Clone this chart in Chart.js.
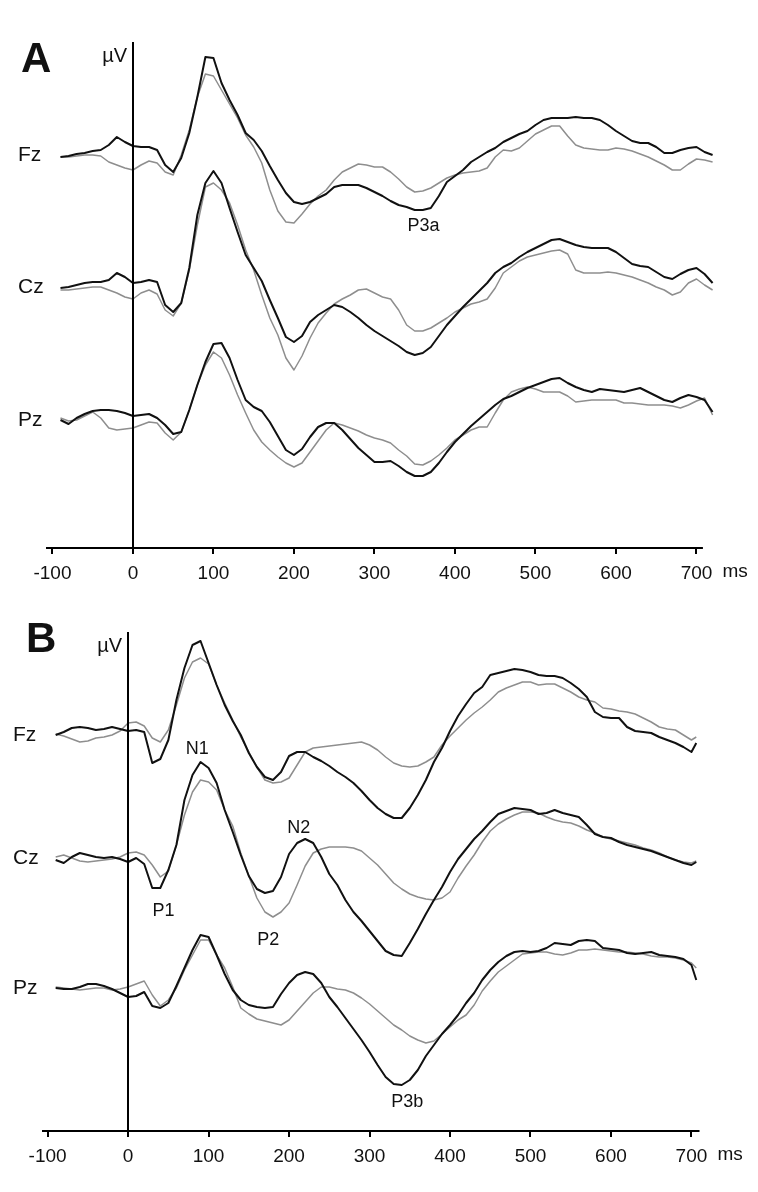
<!DOCTYPE html>
<html>
<head>
<meta charset="utf-8">
<script src="https://cdn.jsdelivr.net/npm/chart.js@4.4.1/dist/chart.umd.min.js"></script>
<style>
  html, body { margin: 0; padding: 0; background: #fff; }
  #wrap { position: relative; width: 758px; height: 1192px; }
  canvas { position: absolute; left: 0; }
</style>
</head>
<body>
<div id="wrap">
  <canvas id="panelA" width="758" height="596" style="top:0"></canvas>
  <canvas id="panelB" width="758" height="596" style="top:596px"></canvas>
</div>
<script>
// ---------- DATA ----------
const channels = ['Fz', 'Cz', 'Pz'];
const tickValues = [-100, 0, 100, 200, 300, 400, 500, 600, 700];

// sample times (ms)
const timesA = [-90,-80,-70,-60,-50,-40,-30,-20,-10,0,
  10,20,30,40,50,60,70,80,90,100,110,120,130,140,150,160,170,180,190,200,
  210,220,230,240,250,260,270,280,290,300,310,320,330,340,350,360,370,380,390,400,
  410,420,430,440,450,460,470,480,490,500,510,520,530,540,550,560,570,580,590,600,
  610,620,630,640,650,660,670,680,690,700,710,720];
const timesB = [-90,-80,-70,-60,-50,-40,-30,-20,-10,0,
  10,20,30,40,50,60,70,80,90,100,110,120,130,140,150,160,170,180,190,200,
  210,220,230,240,250,260,270,280,290,300,310,320,330,340,350,360,370,380,390,400,
  410,420,430,440,450,460,470,480,490,500,510,520,530,540,550,560,570,580,590,600,
  610,620,630,640,650,660,670,680,690,700,706];

// panel A (µV, negative up)
const A_Fz_black = [0.2,0.1,-0.1,-0.2,-0.4,-0.5,-1.0,-1.8,-1.3,-0.9,
  -0.8,-0.8,-0.5,1.0,1.7,0.3,-2.2,-5.8,-9.8,-9.7,
  -7.2,-5.5,-4.0,-2.2,-1.5,-0.4,1.1,2.5,3.8,4.7,
  4.9,4.7,4.3,3.9,3.2,3.0,3.0,3.0,3.3,3.7,
  4.1,4.6,5.0,5.2,5.5,5.5,5.3,4.1,2.7,2.1,
  1.5,0.7,0.2,-0.3,-0.7,-1.3,-1.7,-2.1,-2.4,-3.0,
  -3.5,-3.7,-3.7,-3.7,-3.8,-3.7,-3.7,-3.5,-3.0,-2.4,
  -1.9,-1.4,-1.2,-1.2,-0.8,-0.2,-0.2,-0.5,-0.7,-0.8,
  -0.3,0.0];
const A_Fz_gray = [0.2,0.2,0.1,0.0,0.0,0.1,0.7,1.0,1.3,1.5,
  1.0,0.6,0.8,1.7,2.0,0.0,-2.5,-5.8,-8.1,-7.9,
  -6.5,-5.1,-3.7,-2.0,-0.8,0.8,3.5,5.6,6.7,6.8,
  5.9,4.9,4.1,3.5,2.5,1.7,1.3,0.9,1.0,1.2,
  1.2,1.7,2.4,3.2,3.7,3.6,3.3,2.8,2.3,2.0,
  1.8,1.7,1.6,1.3,0.2,-0.5,-0.4,-0.7,-1.4,-2.1,
  -2.5,-2.9,-2.9,-1.9,-1.0,-0.7,-0.6,-0.5,-0.5,-0.7,
  -0.6,-0.4,-0.1,0.2,0.6,1.0,1.5,1.5,0.9,0.4,
  0.5,0.7];
const A_Cz_black = [0.1,0.0,-0.2,-0.4,-0.5,-0.5,-0.7,-1.4,-1.0,-0.4,
  -0.5,-0.7,-0.5,1.8,2.5,1.6,-1.9,-7.2,-10.4,-11.6,
  -10.4,-7.9,-5.5,-3.2,-1.9,-0.6,1.3,3.1,5.0,5.5,
  4.9,3.5,2.8,2.3,1.8,2.0,2.5,3.1,3.8,4.4,
  4.9,5.4,5.9,6.5,6.8,6.6,6.0,4.9,3.8,2.9,
  2.0,1.2,0.4,-0.4,-1.4,-2.0,-2.4,-3.0,-3.5,-3.9,
  -4.3,-4.7,-4.8,-4.5,-4.2,-4.0,-3.9,-3.9,-3.9,-3.5,
  -2.9,-2.3,-2.1,-2.0,-1.5,-1.0,-0.8,-1.3,-1.7,-1.9,
  -1.3,-0.4];
const A_Cz_gray = [0.3,0.3,0.2,0.1,0.0,0.0,0.3,0.6,1.0,1.2,
  0.6,0.3,0.7,2.3,2.9,1.6,-1.7,-6.2,-10.0,-10.4,
  -9.7,-8.4,-6.2,-3.7,-1.7,0.8,3.1,4.8,7.1,8.3,
  6.9,5.1,3.6,2.6,1.7,1.2,0.8,0.3,0.2,0.6,
  1.0,1.2,2.3,3.8,4.4,4.4,4.1,3.6,3.1,2.5,
  2.1,1.7,1.5,1.2,0.1,-1.4,-2.0,-2.6,-3.0,-3.2,
  -3.4,-3.6,-3.7,-3.3,-1.7,-1.4,-1.4,-1.4,-1.5,-1.4,
  -1.2,-1.0,-0.7,-0.4,0.0,0.3,0.8,0.5,-0.4,-0.8,
  -0.2,0.3];
const A_Pz_black = [0.0,0.4,-0.2,-0.6,-0.9,-1.0,-1.0,-0.9,-0.7,-0.4,
  -0.5,-0.6,-0.2,0.5,1.4,1.2,-1.0,-3.5,-5.8,-7.6,
  -7.7,-6.2,-4.0,-2.0,-1.3,-0.9,0.2,1.6,3.0,3.5,
  2.9,1.7,0.7,0.3,0.3,1.0,1.9,2.8,3.5,4.2,
  4.2,4.1,4.6,5.2,5.6,5.6,5.2,4.3,3.2,2.2,
  1.4,0.6,-0.1,-0.8,-1.5,-2.1,-2.4,-2.8,-3.2,-3.5,
  -3.8,-4.1,-4.2,-3.7,-3.3,-3.0,-2.8,-3.1,-3.0,-2.9,
  -2.8,-3.0,-3.2,-2.8,-2.4,-2.0,-1.8,-2.2,-2.5,-2.3,
  -2.0,-0.8];
const A_Pz_gray = [-0.2,0.1,0.0,-0.4,-0.8,-0.2,0.8,1.0,0.9,0.8,
  0.5,0.2,0.3,1.3,2.0,1.2,-1.0,-3.5,-5.5,-6.8,
  -6.2,-4.5,-2.5,-0.7,1.0,2.2,3.0,3.7,4.3,4.7,
  4.3,3.2,2.1,1.0,0.3,0.5,0.8,1.1,1.5,1.8,
  2.0,2.3,3.0,3.6,4.4,4.5,4.1,3.5,2.8,2.0,
  1.5,1.0,0.7,0.7,-0.7,-2.0,-2.8,-3.1,-3.3,-3.1,
  -2.8,-2.8,-2.8,-2.4,-1.8,-1.9,-2.0,-2.0,-2.0,-2.0,
  -1.7,-1.7,-1.6,-1.5,-1.5,-1.5,-1.4,-1.2,-1.5,-1.9,
  -2.2,-0.5];

// panel B
const B_Fz_black = [0.0,-0.3,-0.7,-0.8,-0.7,-0.5,-0.6,-0.8,-0.6,-0.4,
  -0.5,-0.3,2.8,2.4,0.5,-3.5,-6.7,-9.0,-9.4,-7.2,
  -5.0,-3.0,-1.4,0.0,1.8,3.2,4.2,4.5,3.7,2.1,
  1.7,1.7,2.2,2.6,3.1,3.7,4.2,4.8,5.6,6.5,
  7.3,7.9,8.3,8.3,7.3,6.0,4.5,2.7,1.3,-0.4,
  -1.9,-3.1,-4.2,-4.8,-6.0,-6.2,-6.4,-6.6,-6.5,-6.3,
  -6.0,-5.9,-5.9,-5.7,-5.2,-4.6,-3.8,-2.3,-1.8,-1.7,
  -1.7,-0.8,-0.4,-0.3,-0.2,0.2,0.5,0.8,1.2,1.7,
  0.8];
const B_Fz_gray = [-0.1,0.1,0.4,0.7,0.6,0.3,0.2,0.0,-0.4,-1.2,
  -1.3,-0.9,0.3,0.7,-0.5,-3.0,-5.7,-7.3,-7.7,-7.1,
  -5.0,-3.2,-1.5,0.2,1.7,3.2,4.5,4.8,4.7,4.3,
  3.0,1.7,1.3,1.2,1.1,1.0,0.9,0.8,0.7,1.0,
  1.5,2.2,2.8,3.1,3.2,3.1,2.7,2.2,1.0,0.1,
  -0.7,-1.5,-2.2,-2.8,-3.5,-4.3,-4.7,-5.0,-5.3,-5.3,
  -5.0,-5.1,-5.1,-4.7,-4.3,-3.8,-3.5,-3.3,-2.7,-2.6,
  -2.4,-2.3,-2.1,-1.7,-1.3,-0.8,-0.6,-0.5,0.0,0.5,
  0.2];
const B_Cz_black = [0.2,0.5,-0.1,-0.5,-0.3,-0.1,0.0,-0.1,0.1,0.4,
  0.0,0.6,3.0,3.0,1.2,-1.3,-5.8,-8.3,-9.6,-9.0,
  -7.5,-4.8,-2.6,-0.3,1.8,3.1,3.5,3.3,1.9,-0.4,
  -1.5,-1.9,-1.5,-0.1,1.6,2.7,4.2,5.4,6.3,7.3,
  8.3,9.3,9.7,9.8,8.5,7.1,5.6,4.2,2.9,1.4,
  0.1,-0.9,-1.9,-2.7,-3.6,-4.4,-4.7,-5.0,-4.9,-4.8,
  -4.4,-4.5,-4.8,-4.5,-4.3,-4.1,-3.3,-2.4,-2.1,-2.0,
  -1.6,-1.3,-1.1,-0.9,-0.7,-0.4,-0.1,0.2,0.5,0.7,
  0.4];
const B_Cz_gray = [-0.1,-0.3,0.0,0.3,0.4,0.3,0.2,0.1,-0.1,-0.5,
  -0.6,-0.3,0.7,1.9,1.3,-1.3,-4.3,-6.6,-7.8,-7.6,
  -6.8,-4.8,-3.2,-0.5,1.8,4.0,5.4,5.9,5.4,4.5,
  2.7,0.8,-0.5,-0.9,-1.1,-1.1,-1.1,-1.0,-0.7,0.0,
  0.7,1.6,2.5,3.1,3.6,3.9,4.1,4.2,4.0,3.4,
  2.0,0.8,-0.3,-1.6,-2.7,-3.4,-3.9,-4.3,-4.6,-4.6,
  -4.5,-4.1,-3.8,-3.6,-3.5,-3.2,-2.8,-2.5,-2.1,-1.9,
  -1.7,-1.5,-1.3,-1.0,-0.8,-0.5,-0.1,0.2,0.4,0.5,
  0.3];
const B_Pz_black = [0.0,0.1,0.1,-0.1,-0.4,-0.4,-0.2,0.1,0.5,0.9,
  0.8,0.4,1.8,2.0,1.5,-0.2,-2.0,-3.8,-5.3,-5.1,
  -3.3,-1.4,0.2,1.2,1.7,1.9,2.0,1.9,0.6,-0.5,
  -1.3,-1.6,-1.4,-0.5,0.9,1.9,3.0,4.1,5.2,6.4,
  7.7,8.9,9.6,9.7,9.2,8.2,6.8,5.7,4.6,3.7,
  2.7,1.5,0.5,-0.8,-1.8,-2.6,-3.2,-3.6,-3.7,-3.6,
  -3.7,-4.0,-4.5,-4.4,-4.3,-4.7,-4.8,-4.7,-4.0,-3.9,
  -3.8,-3.5,-3.4,-3.5,-3.6,-3.3,-3.2,-3.1,-2.9,-2.3,
  -0.8];
const B_Pz_gray = [-0.1,0.0,0.1,0.2,0.1,0.0,0.0,0.2,0.1,-0.1,
  -0.4,-0.7,0.7,1.8,1.2,0.0,-1.8,-3.3,-4.8,-4.8,
  -3.3,-2.0,-0.1,2.0,2.6,3.1,3.3,3.5,3.7,3.2,
  2.3,1.4,0.5,-0.1,-0.1,0.1,0.2,0.5,1.0,1.6,
  2.3,3.0,3.7,4.2,4.8,5.2,5.5,5.3,4.6,3.9,
  3.2,2.7,1.7,0.3,-0.7,-1.6,-2.2,-2.8,-3.4,-3.5,
  -3.6,-3.6,-3.4,-3.3,-3.5,-3.8,-3.8,-3.9,-3.8,-3.7,
  -3.6,-3.6,-3.5,-3.4,-3.2,-3.1,-3.1,-3.0,-2.8,-2.5,
  -2.0];

// component labels: text, time (ms), channel index, µV
const peakTextA = ['P3a'];
const peakTimeA = [361];
const peakChanA = [0];
const peakValA  = [7.1];
const peakTextB = ['N1', 'N2', 'P1', 'P2', 'P3b'];
const peakTimeB = [86, 212, 44, 174, 347];
const peakChanB = [0, 1, 1, 1, 2];
const peakValB  = [1.4, -3.0, 5.3, 8.2, 11.4];

// ---------- DRAWING ----------
const FONT = 'Arial, "Liberation Sans", sans-serif';
const BLACK = '#111111';
const GRAY = '#8e8e8e';

const decor = {
  id: 'decor',
  afterDraw(chart, args, o) {
    const { ctx, chartArea, scales: { x, y } } = chart;
    ctx.save();
    ctx.strokeStyle = '#000';
    ctx.lineWidth = 2;
    // µV axis at t = 0
    const x0 = Math.round(x.getPixelForValue(0));
    ctx.beginPath();
    ctx.moveTo(x0, chartArea.top);
    ctx.lineTo(x0, chartArea.bottom);
    ctx.stroke();
    // time axis
    ctx.beginPath();
    ctx.moveTo(chartArea.left, chartArea.bottom);
    ctx.lineTo(x.getPixelForValue(o.axisEnd), chartArea.bottom);
    ctx.stroke();

    ctx.fillStyle = BLACK;
    // channel names
    ctx.font = '21px ' + FONT;
    ctx.textAlign = 'left';
    ctx.textBaseline = 'middle';
    channels.forEach((c, i) => ctx.fillText(c, o.labelX, y.getPixelForValue(o.offsets[i])));
    // unit labels
    ctx.font = '20px ' + FONT;
    ctx.textAlign = 'right';
    ctx.textBaseline = 'alphabetic';
    ctx.fillText('µV', x0 - 6, chartArea.top + 20);
    ctx.font = '19px ' + FONT;
    ctx.textAlign = 'left';
    ctx.textBaseline = 'middle';
    ctx.fillText('ms', x.getPixelForValue(700) + 26, chartArea.bottom + 24);
    // component names
    ctx.font = '18px ' + FONT;
    ctx.textAlign = 'center';
    o.peakText.forEach((t, i) => {
      ctx.fillText(t, x.getPixelForValue(o.peakTime[i]),
        y.getPixelForValue(o.offsets[o.peakChan[i]] + o.peakVal[i]));
    });
    // panel letter
    ctx.font = 'bold 42px ' + FONT;
    ctx.textAlign = 'left';
    ctx.textBaseline = 'alphabetic';
    ctx.fillText(o.letter, o.letterX, o.letterY);
    ctx.restore();
  }
};

function makePanel(id, p) {
  const datasets = [];
  channels.forEach((c, i) => {
    datasets.push({
      label: c + ' black',
      data: p.times.map((t, k) => ({ x: t, y: p.offsets[i] + p.black[i][k] })),
      borderColor: BLACK, borderWidth: 2, order: 0
    });
    datasets.push({
      label: c + ' gray',
      data: p.times.map((t, k) => ({ x: t, y: p.offsets[i] + p.gray[i][k] })),
      borderColor: GRAY, borderWidth: 1.5, order: 1
    });
  });

  return new Chart(document.getElementById(id), {
    type: 'line',
    data: { datasets },
    options: {
      responsive: false,
      animation: false,
      devicePixelRatio: 1,
      layout: { padding: { left: p.padLeft, right: p.padRight, top: p.padTop, bottom: 0 } },
      elements: { point: { radius: 0 }, line: { tension: 0, borderJoinStyle: 'round' } },
      plugins: {
        legend: { display: false },
        tooltip: { enabled: false },
        decor: {
          axisEnd: p.axisEnd, offsets: p.offsets, labelX: p.labelX,
          peakText: p.peakText, peakTime: p.peakTime, peakChan: p.peakChan, peakVal: p.peakVal,
          letter: p.letter, letterX: p.letterX, letterY: p.letterY
        }
      },
      scales: {
        x: {
          type: 'linear',
          min: p.xMin, max: p.xMax,
          afterBuildTicks: s => { s.ticks = tickValues.map(v => ({ value: v })); },
          afterFit: s => { s.height = p.axisHeight; },
          border: { display: false },
          grid: { drawOnChartArea: false, drawTicks: true, tickLength: 6, color: '#000', lineWidth: 2 },
          ticks: { font: { family: FONT, size: 19 }, color: BLACK, padding: 8, maxRotation: 0, autoSkip: false }
        },
        y: {
          display: false,
          reverse: true,
          min: p.yMin, max: p.yMax
        }
      }
    },
    plugins: [decor]
  });
}

makePanel('panelA', {
  times: timesA,
  black: [A_Fz_black, A_Cz_black, A_Pz_black],
  gray: [A_Fz_gray, A_Cz_gray, A_Pz_gray],
  offsets: [0, 13.2, 26.5],
  xMin: -108, xMax: 723, axisEnd: 708,
  yMin: -11.3, yMax: 39.3,
  padLeft: 46, padRight: 43, padTop: 42, axisHeight: 48,
  labelX: 18,
  peakText: peakTextA, peakTime: peakTimeA, peakChan: peakChanA, peakVal: peakValA,
  letter: 'A', letterX: 21, letterY: 72
});

makePanel('panelB', {
  times: timesB,
  black: [B_Fz_black, B_Cz_black, B_Pz_black],
  gray: [B_Fz_gray, B_Cz_gray, B_Pz_gray],
  offsets: [0, 12.3, 25.3],
  xMin: -107, xMax: 710, axisEnd: 710,
  yMin: -10.3, yMax: 39.6,
  padLeft: 42, padRight: 58.5, padTop: 36, axisHeight: 61,
  labelX: 13,
  peakText: peakTextB, peakTime: peakTimeB, peakChan: peakChanB, peakVal: peakValB,
  letter: 'B', letterX: 26, letterY: 56
});
</script>
</body>
</html>
